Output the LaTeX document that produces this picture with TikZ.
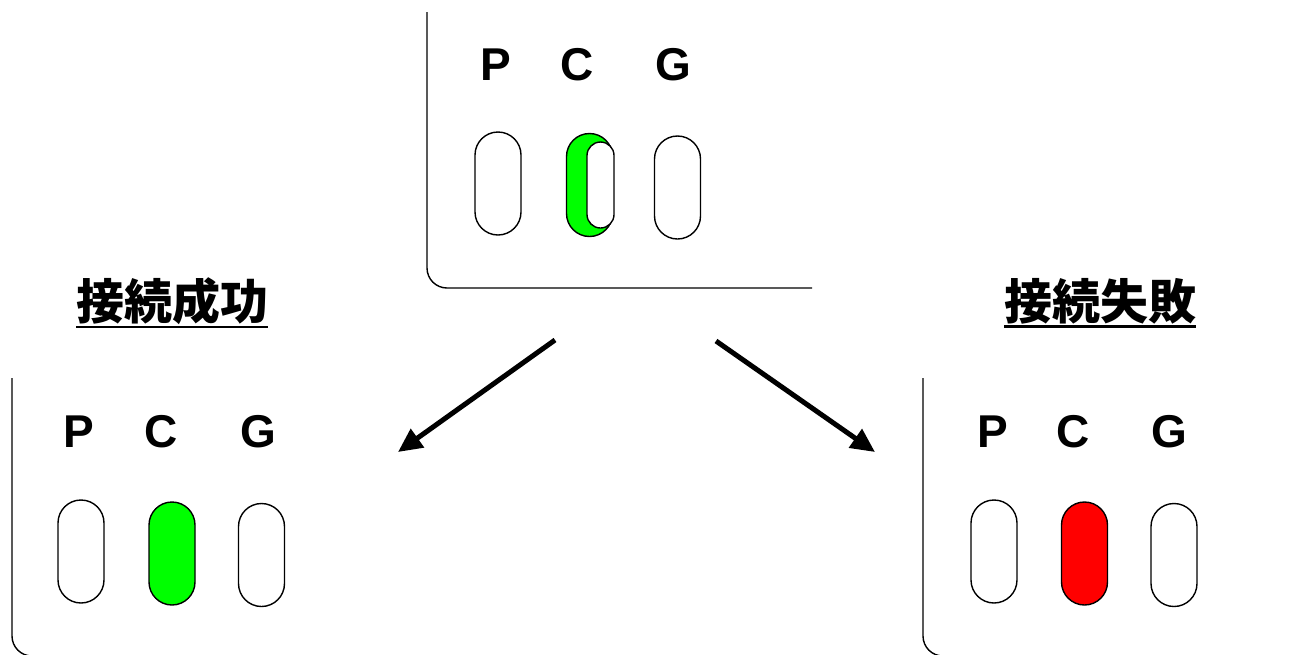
\documentclass[tikz,border=0pt]{standalone}
\usepackage{fontspec}
\setmainfont{Liberation Sans}
\newfontfamily\cjk{Noto Sans CJK JP}
\usetikzlibrary{arrows.meta}
\newcommand{\titleul}[1]{\vtop{\hbox{#1}\kern1pt\hrule height 2.8pt}}

\begin{document}
\begin{tikzpicture}[x=1pt,y=-1pt,
		led/.style = {draw, line width=1.4pt, rounded corners=23pt, minimum width=46pt, minimum height=103pt, inner sep=0pt},
		pin/.style = {font=\fontsize{46}{46}\selectfont\bfseries, inner sep=0pt, anchor=base},
		title/.style = {font=\cjk\bfseries\fontsize{48}{48}\selectfont, inner sep=0pt},
		panel/.style = {line width=1.4pt, rounded corners=20pt},
		arrow/.style = {line width=5pt, -{Triangle[length=24pt,width=22pt]}}]
		\useasboundingbox (0,0) rectangle (1291,654);
		
		% top panel
		\draw[panel] (427,12) |- (812,288);
		\node[pin] (tP) at (496,80) {P};
		\node[pin] (tC) at (577,80) {C};
		\node[pin] (tG) at (673,80) {G};
		\node[led] (tledP) at (498,183.5) {};
		\node[led, fill=green] (tledC) at (589.5,185) {};
		\node[led, fill=white, minimum width=27pt, minimum height=86pt, rounded corners=13.5pt] (tledCin) at (600.5,185) {};
		\node[led] (tledG) at (677.5,187.5) {};
		
		% success
		\node[title] (ok) at (172,303) {\titleul{接続成功}};
		\draw[panel] (12,378) |- (420,656);
		\node[pin] (lP) at (79,447) {P};
		\node[pin] (lC) at (161,447) {C};
		\node[pin] (lG) at (258,447) {G};
		\node[led] (lledP) at (81,551.5) {};
		\node[led, fill=green] (lledC) at (172,553.5) {};
		\node[led] (lledG) at (261.5,555) {};
		
		% failure
		\node[title] (ng) at (1100,303) {\titleul{接続失敗}};
		\draw[panel] (923,378) |- (1300,656);
		\node[pin] (rP) at (992.5,447) {P};
		\node[pin] (rC) at (1073,447) {C};
		\node[pin] (rG) at (1169,447) {G};
		\node[led] (rledP) at (994,551.5) {};
		\node[led, fill=red] (rledC) at (1084.5,553.5) {};
		\node[led] (rledG) at (1174,555) {};
		
		\coordinate (okstart) at (555,340);
		\coordinate (okend) at (398,452);
		\coordinate (ngstart) at (716,341);
		\coordinate (ngend) at (875,452);
		\draw[arrow] (okstart) -- (okend);
		\draw[arrow] (ngstart) -- (ngend);
\end{tikzpicture}
\end{document}
